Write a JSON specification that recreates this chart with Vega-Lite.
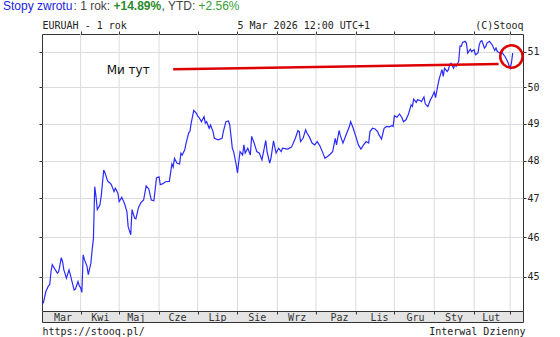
{
  "$schema": "https://vega.github.io/schema/vega-lite/v6.json",
  "width": 481,
  "height": 277,
  "autosize": {"type": "none"},
  "padding": {"left": 42, "top": 34, "right": 37, "bottom": 26},
  "background": "white",
  "title": {"text": "Stopy zwrotu", "anchor": "start", "frame": "group", "dx": -39, "dy": 12.5, "offset": -10, "font": "Liberation Sans", "fontSize": 12, "fontWeight": "normal", "color": "#2222dd", "baseline": "alphabetic"},
  "datasets": {
    "eur": [
      {"date":"2025-03-03","v":44.34},{"date":"2025-03-05","v":44.63},{"date":"2025-03-07","v":44.77},{"date":"2025-03-08","v":44.80},
      {"date":"2025-03-09","v":45.13},{"date":"2025-03-10","v":45.30},{"date":"2025-03-12","v":45.19},{"date":"2025-03-14","v":45.09},
      {"date":"2025-03-15","v":45.13},{"date":"2025-03-17","v":45.48},{"date":"2025-03-18","v":45.38},{"date":"2025-03-19","v":45.17},
      {"date":"2025-03-21","v":44.96},{"date":"2025-03-23","v":45.17},{"date":"2025-03-24","v":45.05},{"date":"2025-03-25","v":44.92},
      {"date":"2025-03-27","v":44.67},{"date":"2025-03-28","v":44.69},{"date":"2025-03-30","v":44.88},{"date":"2025-03-31","v":44.77},
      {"date":"2025-04-01","v":44.73},{"date":"2025-04-02","v":44.61},{"date":"2025-04-03","v":45.55},{"date":"2025-04-04","v":45.43},
      {"date":"2025-04-06","v":45.26},{"date":"2025-04-07","v":45.05},{"date":"2025-04-09","v":45.34},{"date":"2025-04-10","v":45.68},
      {"date":"2025-04-11","v":45.97},{"date":"2025-04-12","v":47.31},{"date":"2025-04-13","v":47.05},{"date":"2025-04-14","v":46.71},
      {"date":"2025-04-16","v":46.83},{"date":"2025-04-17","v":47.05},{"date":"2025-04-19","v":47.75},{"date":"2025-04-20","v":47.67},
      {"date":"2025-04-22","v":47.46},{"date":"2025-04-24","v":47.40},{"date":"2025-04-25","v":47.36},{"date":"2025-04-27","v":47.18},
      {"date":"2025-04-28","v":47.27},{"date":"2025-04-30","v":47.14},{"date":"2025-05-01","v":46.92},{"date":"2025-05-03","v":47.03},
      {"date":"2025-05-05","v":46.88},{"date":"2025-05-07","v":46.66},{"date":"2025-05-08","v":46.27},{"date":"2025-05-10","v":46.06},
      {"date":"2025-05-11","v":46.71},{"date":"2025-05-13","v":46.49},{"date":"2025-05-14","v":46.47},{"date":"2025-05-16","v":46.76},
      {"date":"2025-05-17","v":46.83},{"date":"2025-05-18","v":46.89},{"date":"2025-05-20","v":46.96},{"date":"2025-05-22","v":47.33},
      {"date":"2025-05-24","v":47.25},{"date":"2025-05-26","v":46.96},{"date":"2025-05-28","v":46.94},{"date":"2025-05-30","v":47.54},
      {"date":"2025-06-01","v":47.57},{"date":"2025-06-02","v":47.36},{"date":"2025-06-04","v":47.39},{"date":"2025-06-06","v":47.44},
      {"date":"2025-06-09","v":47.45},{"date":"2025-06-11","v":47.91},{"date":"2025-06-12","v":47.83},{"date":"2025-06-13","v":48.06},
      {"date":"2025-06-15","v":47.93},{"date":"2025-06-17","v":47.91},{"date":"2025-06-18","v":48.20},{"date":"2025-06-19","v":48.15},
      {"date":"2025-06-21","v":48.29},{"date":"2025-06-22","v":48.46},{"date":"2025-06-24","v":48.74},{"date":"2025-06-25","v":48.78},
      {"date":"2025-06-26","v":49.01},{"date":"2025-06-28","v":49.36},{"date":"2025-06-30","v":49.28},{"date":"2025-07-01","v":49.21},
      {"date":"2025-07-02","v":49.17},{"date":"2025-07-04","v":49.05},{"date":"2025-07-06","v":49.19},{"date":"2025-07-07","v":49.01},
      {"date":"2025-07-08","v":49.05},{"date":"2025-07-10","v":48.87},{"date":"2025-07-11","v":48.96},{"date":"2025-07-13","v":48.78},
      {"date":"2025-07-14","v":48.60},{"date":"2025-07-17","v":48.56},{"date":"2025-07-20","v":48.60},{"date":"2025-07-21","v":48.78},
      {"date":"2025-07-23","v":49.05},{"date":"2025-07-25","v":49.07},{"date":"2025-07-26","v":48.96},{"date":"2025-07-28","v":48.33},
      {"date":"2025-07-29","v":48.24},{"date":"2025-07-31","v":47.89},{"date":"2025-08-01","v":47.67},{"date":"2025-08-02","v":47.97},
      {"date":"2025-08-03","v":48.24},{"date":"2025-08-05","v":48.15},{"date":"2025-08-06","v":48.42},{"date":"2025-08-07","v":48.20},
      {"date":"2025-08-09","v":48.33},{"date":"2025-08-11","v":48.15},{"date":"2025-08-12","v":48.65},{"date":"2025-08-14","v":48.47},
      {"date":"2025-08-16","v":48.24},{"date":"2025-08-18","v":48.20},{"date":"2025-08-20","v":48.02},{"date":"2025-08-23","v":48.54},
      {"date":"2025-08-24","v":48.24},{"date":"2025-08-26","v":47.93},{"date":"2025-08-27","v":48.06},{"date":"2025-08-29","v":48.53},
      {"date":"2025-08-31","v":48.20},{"date":"2025-09-02","v":48.33},{"date":"2025-09-04","v":48.24},{"date":"2025-09-05","v":48.33},
      {"date":"2025-09-07","v":48.32},{"date":"2025-09-09","v":48.31},{"date":"2025-09-12","v":48.36},{"date":"2025-09-15","v":48.60},
      {"date":"2025-09-17","v":48.81},{"date":"2025-09-18","v":48.78},{"date":"2025-09-19","v":48.51},{"date":"2025-09-21","v":48.60},
      {"date":"2025-09-23","v":48.83},{"date":"2025-09-24","v":48.74},{"date":"2025-09-26","v":48.63},{"date":"2025-09-28","v":48.47},
      {"date":"2025-09-30","v":48.42},{"date":"2025-10-02","v":48.51},{"date":"2025-10-04","v":48.40},{"date":"2025-10-06","v":48.24},
      {"date":"2025-10-08","v":48.06},{"date":"2025-10-10","v":48.11},{"date":"2025-10-12","v":48.17},{"date":"2025-10-14","v":48.24},
      {"date":"2025-10-16","v":48.60},{"date":"2025-10-17","v":48.42},{"date":"2025-10-19","v":48.81},{"date":"2025-10-20","v":48.67},
      {"date":"2025-10-22","v":48.47},{"date":"2025-10-23","v":48.56},{"date":"2025-10-25","v":48.74},{"date":"2025-10-27","v":48.92},
      {"date":"2025-10-28","v":49.05},{"date":"2025-10-30","v":48.87},{"date":"2025-11-01","v":48.65},{"date":"2025-11-03","v":48.42},
      {"date":"2025-11-05","v":48.31},{"date":"2025-11-07","v":48.42},{"date":"2025-11-09","v":48.51},{"date":"2025-11-11","v":48.47},
      {"date":"2025-11-12","v":48.78},{"date":"2025-11-14","v":48.87},{"date":"2025-11-16","v":48.85},{"date":"2025-11-18","v":48.78},
      {"date":"2025-11-19","v":48.69},{"date":"2025-11-21","v":48.58},{"date":"2025-11-23","v":48.87},{"date":"2025-11-25","v":48.92},
      {"date":"2025-11-27","v":48.91},{"date":"2025-11-29","v":48.94},{"date":"2025-11-30","v":48.92},{"date":"2025-12-01","v":49.21},
      {"date":"2025-12-03","v":49.17},{"date":"2025-12-05","v":49.26},{"date":"2025-12-07","v":49.15},{"date":"2025-12-08","v":49.05},
      {"date":"2025-12-10","v":49.10},{"date":"2025-12-12","v":49.26},{"date":"2025-12-14","v":49.51},{"date":"2025-12-15","v":49.47},
      {"date":"2025-12-16","v":49.67},{"date":"2025-12-18","v":49.58},{"date":"2025-12-19","v":49.65},{"date":"2025-12-21","v":49.63},
      {"date":"2025-12-22","v":49.60},{"date":"2025-12-24","v":49.73},{"date":"2025-12-25","v":49.54},{"date":"2025-12-27","v":49.46},
      {"date":"2025-12-29","v":49.65},{"date":"2025-12-30","v":49.71},{"date":"2026-01-01","v":49.87},{"date":"2026-01-02","v":49.71},
      {"date":"2026-01-04","v":50.09},{"date":"2026-01-05","v":50.25},{"date":"2026-01-07","v":50.49},{"date":"2026-01-08","v":50.30},
      {"date":"2026-01-09","v":50.53},{"date":"2026-01-11","v":50.44},{"date":"2026-01-12","v":50.49},{"date":"2026-01-13","v":50.63},
      {"date":"2026-01-14","v":50.67},{"date":"2026-01-16","v":50.53},{"date":"2026-01-17","v":50.63},{"date":"2026-01-18","v":50.58},
      {"date":"2026-01-20","v":50.72},{"date":"2026-01-21","v":51.16},{"date":"2026-01-22","v":51.15},{"date":"2026-01-23","v":51.26},
      {"date":"2026-01-25","v":51.29},{"date":"2026-01-26","v":51.24},{"date":"2026-01-27","v":50.96},{"date":"2026-01-29","v":51.07},
      {"date":"2026-01-30","v":51.00},{"date":"2026-02-01","v":51.05},{"date":"2026-02-02","v":50.91},{"date":"2026-02-04","v":50.96},
      {"date":"2026-02-05","v":51.19},{"date":"2026-02-06","v":51.29},{"date":"2026-02-07","v":51.31},{"date":"2026-02-09","v":51.10},
      {"date":"2026-02-10","v":51.14},{"date":"2026-02-11","v":51.24},{"date":"2026-02-13","v":51.29},{"date":"2026-02-14","v":51.24},
      {"date":"2026-02-15","v":51.19},{"date":"2026-02-17","v":51.03},{"date":"2026-02-18","v":51.10},{"date":"2026-02-19","v":51.00},
      {"date":"2026-02-21","v":50.96},{"date":"2026-02-22","v":51.00},{"date":"2026-02-25","v":50.86},{"date":"2026-02-27","v":50.72},
      {"date":"2026-03-01","v":50.53},{"date":"2026-03-02","v":50.67},{"date":"2026-03-03","v":50.96}
    ],
    "months": [
      {"m":"2025-04-01"},{"m":"2025-05-01"},{"m":"2025-06-01"},{"m":"2025-07-01"},{"m":"2025-08-01"},{"m":"2025-09-01"},
      {"m":"2025-10-01"},{"m":"2025-11-01"},{"m":"2025-12-01"},{"m":"2026-01-01"},{"m":"2026-02-01"},{"m":"2026-03-01"}
    ],
    "note": [{"date":"2025-06-12","v":50.50},{"date":"2026-02-20","v":50.65}],
    "ring": [{"date":"2026-03-02","v":50.86}],
    "label": [{"date":"2025-05-08","v":50.49,"label":"Ми тут"}]
  },
  "layer": [
    {
      "data": {"name": "months"},
      "mark": {"type": "rule", "color": "#dcdcdc", "strokeWidth": 1},
      "encoding": {
        "x": {
          "field": "m", "type": "temporal",
          "scale": {"type": "utc", "domain": [{"year":2025,"month":3,"date":2,"utc":true},{"year":2026,"month":3,"date":11,"utc":true}]},
          "axis": {
            "orient": "bottom", "offset": 0,
            "values": [{"year":2025,"month":3,"date":2,"utc":true},{"year":2025,"month":4,"date":1,"utc":true},{"year":2025,"month":5,"date":1,"utc":true},{"year":2025,"month":6,"date":1,"utc":true},{"year":2025,"month":7,"date":1,"utc":true},{"year":2025,"month":8,"date":1,"utc":true},{"year":2025,"month":9,"date":1,"utc":true},{"year":2025,"month":10,"date":1,"utc":true},{"year":2025,"month":11,"date":1,"utc":true},{"year":2025,"month":12,"date":1,"utc":true},{"year":2026,"month":1,"date":1,"utc":true},{"year":2026,"month":2,"date":1,"utc":true},{"year":2026,"month":3,"date":1,"utc":true},{"year":2026,"month":3,"date":11,"utc":true}],
            "grid": false, "domain": false, "labels": false, "ticks": true, "tickColor": "#333333", "tickWidth": 1,
            "tickSize": {"condition": {"test": "utcdate(datum.value) != 1", "value": 11}, "value": 3},
            "zindex": 1,
            "title": "https://stooq.pl/", "titleX": 0, "titleY": 23.5, "titleAlign": "left", "titleBaseline": "alphabetic",
            "titleFont": "DejaVu Sans Mono", "titleFontSize": 10, "titleFontWeight": "normal", "titleColor": "#222222"
          }
        }
      }
    },
    {
      "data": {"name": "eur"},
      "mark": {"type": "line", "color": "#2a2aff", "strokeWidth": 1.2},
      "encoding": {
        "x": {
          "field": "date", "type": "temporal",
          "scale": {"type": "utc", "domain": [{"year":2025,"month":3,"date":2,"utc":true},{"year":2026,"month":3,"date":11,"utc":true}]},
          "axis": {
            "orient": "bottom", "offset": 5.5,
            "ticks": false, "tickSize": 0, "grid": false, "labels": false,
            "domain": true, "domainColor": "#e4e4e4", "domainWidth": 10,
            "zindex": 0,
            "title": "Interwal Dzienny", "titleX": 483, "titleY": 18, "titleAlign": "right", "titleBaseline": "alphabetic",
            "titleFont": "DejaVu Sans Mono", "titleFontSize": 10, "titleFontWeight": "normal", "titleColor": "#222222"
          }
        },
        "y": {
          "field": "v", "type": "quantitative",
          "scale": {"type": "log", "domain": [44.15, 51.5], "nice": false},
          "axis": {
            "orient": "right", "values": [45, 46, 47, 48, 49, 50, 51], "format": "d",
            "grid": true, "gridColor": "#dcdcdc", "gridWidth": 1,
            "ticks": true, "tickSize": 3, "tickColor": "#333333", "domain": false,
            "labels": true, "labelFont": "DejaVu Sans Mono", "labelFontSize": 10, "labelPadding": 1, "labelColor": "#222222", "labelOverlap": false,
            "zindex": 0,
            "title": "(C)Stooq", "titleAngle": 0, "titleX": 0, "titleY": -5.5, "titleAlign": "right", "titleBaseline": "alphabetic",
            "titleFont": "DejaVu Sans Mono", "titleFontSize": 10, "titleFontWeight": "normal", "titleColor": "#222222"
          }
        }
      }
    },
    {
      "data": {"name": "note"},
      "mark": {"type": "line", "color": "#dd0000", "strokeWidth": 2.5},
      "encoding": {
        "x": {
          "field": "date", "type": "temporal",
          "scale": {"type": "utc", "domain": [{"year":2025,"month":3,"date":2,"utc":true},{"year":2026,"month":3,"date":11,"utc":true}]},
          "axis": {
            "orient": "top",
            "values": [{"year":2025,"month":4,"date":1,"utc":true},{"year":2025,"month":5,"date":1,"utc":true},{"year":2025,"month":6,"date":1,"utc":true},{"year":2025,"month":7,"date":1,"utc":true},{"year":2025,"month":8,"date":1,"utc":true},{"year":2025,"month":9,"date":1,"utc":true},{"year":2025,"month":10,"date":1,"utc":true},{"year":2025,"month":11,"date":1,"utc":true},{"year":2025,"month":12,"date":1,"utc":true},{"year":2026,"month":1,"date":1,"utc":true},{"year":2026,"month":2,"date":1,"utc":true},{"year":2026,"month":3,"date":1,"utc":true}],
            "ticks": true, "tickSize": 3, "tickColor": "#333333", "domain": false, "labels": false, "grid": false,
            "zindex": 1,
            "title": "EURUAH - 1 rok", "titleX": 0, "titleY": -5.5, "titleAlign": "left", "titleBaseline": "alphabetic",
            "titleFont": "DejaVu Sans Mono", "titleFontSize": 10, "titleFontWeight": "normal", "titleColor": "#222222"
          }
        },
        "y": {
          "field": "v", "type": "quantitative",
          "scale": {"type": "log", "domain": [44.15, 51.5], "nice": false},
          "axis": {
            "orient": "left", "values": [45, 46, 47, 48, 49, 50, 51],
            "ticks": true, "tickSize": 3, "tickColor": "#333333", "labels": false, "grid": false, "domain": false,
            "zindex": 1,
            "title": "5 Mar 2026 12:00 UTC+1", "titleAngle": 0, "titleX": 195, "titleY": -5.5, "titleAlign": "left", "titleBaseline": "alphabetic",
            "titleFont": "DejaVu Sans Mono", "titleFontSize": 10, "titleFontWeight": "normal", "titleColor": "#222222"
          }
        }
      }
    },
    {
      "data": {"name": "ring"},
      "mark": {"type": "point", "shape": "circle", "filled": false, "size": 500, "stroke": "#dd0000", "strokeWidth": 2.5, "opacity": 1},
      "encoding": {
        "x": {
          "field": "date", "type": "temporal",
          "scale": {"type": "utc", "domain": [{"year":2025,"month":3,"date":2,"utc":true},{"year":2026,"month":3,"date":11,"utc":true}]},
          "axis": {
            "orient": "top", "ticks": false, "domain": false, "labels": false, "grid": false,
            "title": ": 1 rok: ", "titleX": 31, "titleY": -24.5, "titleAlign": "left", "titleBaseline": "alphabetic",
            "titleFont": "Liberation Sans", "titleFontSize": 12, "titleFontWeight": "normal", "titleColor": "#444444"
          }
        },
        "y": {
          "field": "v", "type": "quantitative",
          "scale": {"type": "log", "domain": [44.15, 51.5], "nice": false},
          "axis": {
            "orient": "left", "ticks": false, "domain": false, "labels": false, "grid": false,
            "title": "+14.89%", "titleAngle": 0, "titleX": 71, "titleY": -24.5, "titleAlign": "left", "titleBaseline": "alphabetic",
            "titleFont": "Liberation Sans", "titleFontSize": 12, "titleFontWeight": "bold", "titleColor": "#2a8a2a"
          }
        }
      }
    },
    {
      "data": {"name": "label"},
      "mark": {"type": "text", "font": "DejaVu Sans", "fontSize": 12, "align": "center", "baseline": "middle", "color": "#111111"},
      "encoding": {
        "text": {"field": "label"},
        "x": {
          "field": "date", "type": "temporal",
          "scale": {"type": "utc", "domain": [{"year":2025,"month":3,"date":2,"utc":true},{"year":2026,"month":3,"date":11,"utc":true}]},
          "axis": {
            "orient": "bottom", "offset": 11,
            "values": [{"year":2025,"month":3,"date":18,"utc":true},{"year":2025,"month":4,"date":16,"utc":true},{"year":2025,"month":5,"date":14,"utc":true},{"year":2025,"month":6,"date":15,"utc":true},{"year":2025,"month":7,"date":16,"utc":true},{"year":2025,"month":8,"date":16,"utc":true},{"year":2025,"month":9,"date":16,"utc":true},{"year":2025,"month":10,"date":19,"utc":true},{"year":2025,"month":11,"date":19,"utc":true},{"year":2025,"month":12,"date":17,"utc":true},{"year":2026,"month":1,"date":16,"utc":true},{"year":2026,"month":2,"date":14,"utc":true}],
            "labelExpr": "['Sty','Lut','Mar','Kwi','Maj','Cze','Lip','Sie','Wrz','Paz','Lis','Gru'][utcmonth(datum.value)]",
            "ticks": false, "tickSize": 0, "grid": false,
            "labels": true, "labelPadding": -5, "labelBaseline": "middle", "labelAlign": "center", "labelFont": "DejaVu Sans Mono", "labelFontSize": 10, "labelColor": "#333333", "labelOverlap": false, "labelFlush": false, "labelBound": false,
            "domain": true, "domainColor": "#333333", "domainWidth": 1,
            "zindex": 1,
            "title": ", YTD: ", "titleX": 119, "titleY": -312.5, "titleAlign": "left", "titleBaseline": "alphabetic",
            "titleFont": "Liberation Sans", "titleFontSize": 12, "titleFontWeight": "normal", "titleColor": "#444444"
          }
        },
        "y": {
          "field": "v", "type": "quantitative",
          "scale": {"type": "log", "domain": [44.15, 51.5], "nice": false},
          "axis": {
            "orient": "right", "ticks": false, "domain": false, "labels": false, "grid": false,
            "title": "+2.56%", "titleAngle": 0, "titleX": -325, "titleY": -24.5, "titleAlign": "left", "titleBaseline": "alphabetic",
            "titleFont": "Liberation Sans", "titleFontSize": 12, "titleFontWeight": "normal", "titleColor": "#35a035"
          }
        }
      }
    }
  ],
  "resolve": {
    "scale": {"x": "shared", "y": "shared"},
    "axis": {"x": "independent", "y": "independent"}
  },
  "config": {
    "view": {"stroke": "#333333", "strokeWidth": 1}
  }
}
